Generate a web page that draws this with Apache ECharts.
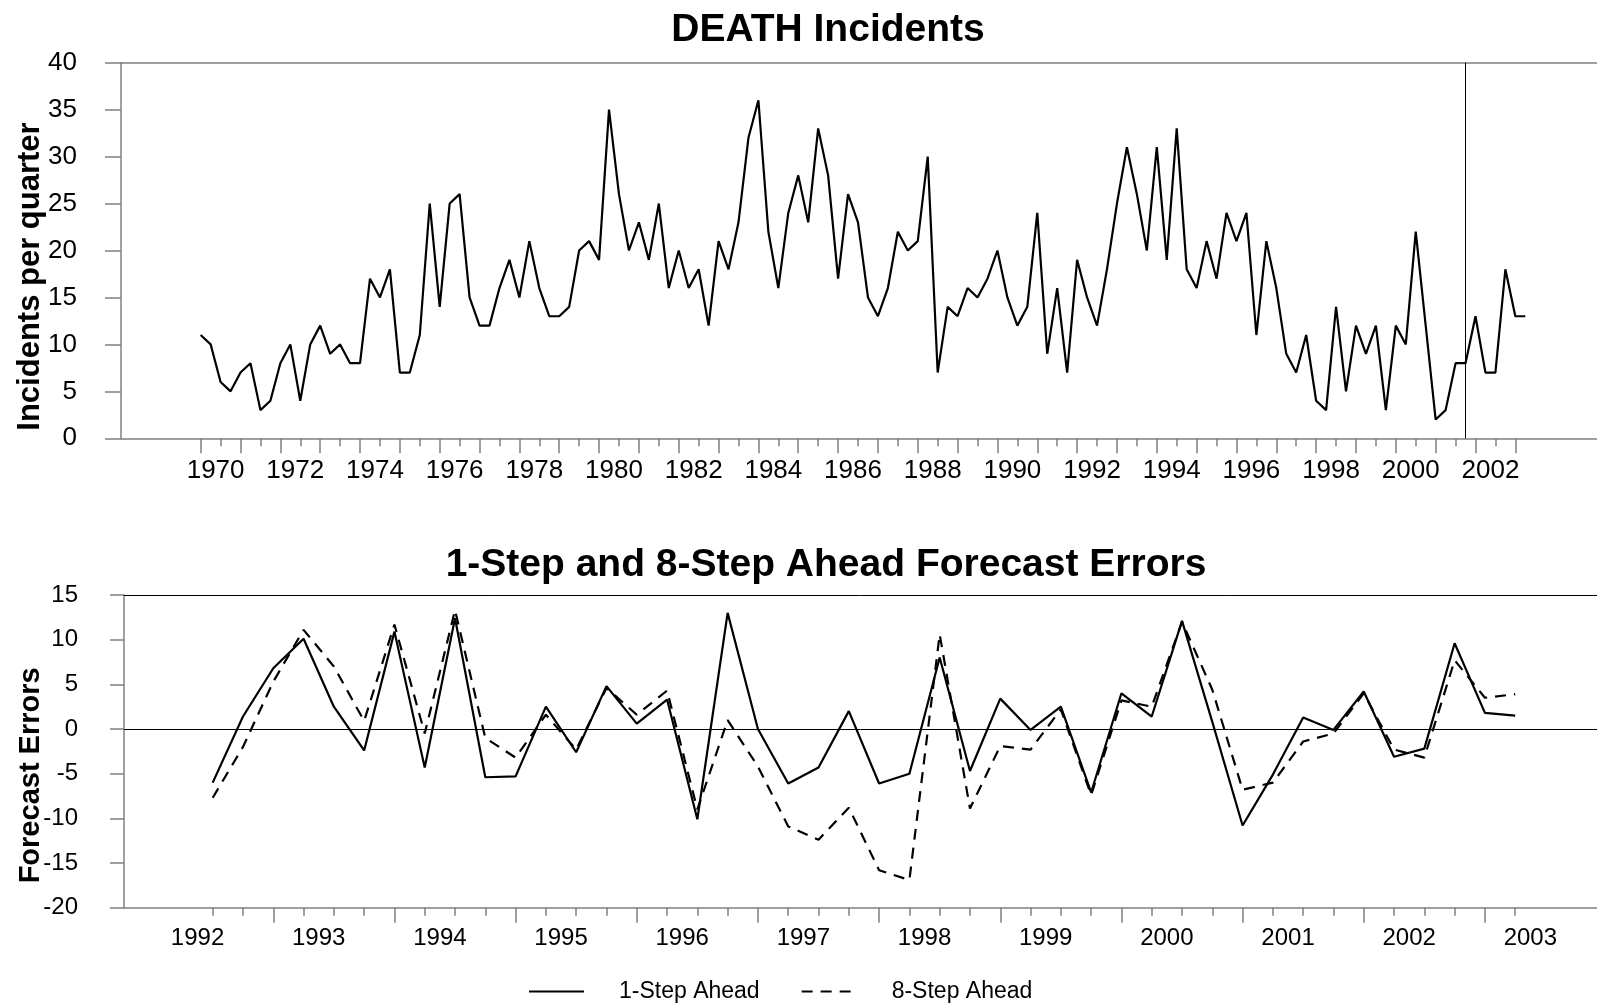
<!DOCTYPE html>
<html>
<head>
<meta charset="utf-8">
<script src="https://cdn.jsdelivr.net/npm/echarts@6/dist/echarts.min.js"></script>
<style>
html,body{margin:0;padding:0;background:#fff;}
#chart{width:1597px;height:1006px;}
</style>
</head>
<body>
<div id="chart"></div>
<script>
// ---------------- DATA ----------------
// Quarterly DEATH incidents, first value = 1970 Q1
const deathStartYear = 1970;
const deathIncidents = [
  11,10,6,5,7,8,3,4,8,10,4,10,12,9,10,8,8,17,15,18,7,7,11,25,14,25,26,15,12,12,16,19,15,
  21,16,13,13,14,20,21,19,35,26,20,23,19,25,16,20,16,18,12,21,18,23,32,36,22,16,24,28,23,33,
  28,17,26,23,15,13,16,22,20,21,
  30,7,14,13,16,15,17,20,15,12,14,24,9,16,7,19,15,12,18,25,31,26,20,31,19,33,18,16,21,17,
  24,21,24,11,21,16,9,7,11,4,
  3,14,5,12,9,12,3,12,10,22,12,2,3,8,8,13,7,7,18,13,13
];
// Forecast origin marker (2001 Q4)
const forecastOrigin = 2001.75;

// Forecast errors, first value = 1992 Q3
const errorStartYear = 1992.5;
const oneStepErrors = [
  -6.0,1.4,6.8,10.1,2.5,-2.4,10.9,-4.3,12.4,-5.4,-5.3,2.5,-2.6,4.8,0.6,3.3,-10.1,13.0,0.0,-6.1,
  -4.3,2.0,-6.1,-5.0,8.0,-4.7,3.4,-0.1,2.5,-7.1,4.0,1.4,12.1,0.8,-10.8,-5.1,1.3,-0.1,4.2,-3.1,
  -2.2,9.6,1.8,1.5
];
const eightStepErrors = [
  -7.7,-2.0,5.3,11.1,7.0,0.9,11.7,-0.5,13.3,-1.0,-3.2,1.6,-2.3,4.6,1.6,4.3,-9.0,1.0,-4.2,-10.9,
  -12.4,-8.8,-15.8,-16.9,10.6,-8.9,-1.9,-2.3,2.2,-7.4,3.2,2.5,12.0,4.4,-6.8,-6.0,-1.4,-0.5,4.0,-2.3,
  -3.2,7.7,3.5,3.9
];

// Tick labels
const topTickLabels = ['1970','1972','1974','1976','1978','1980','1982','1984','1986','1988',
  '1990','1992','1994','1996','1998','2000','2002'];
const bottomTickLabels = ['1992','1993','1994','1995','1996','1997','1998','1999','2000','2001','2002','2003'];

const seriesNames = ['1-Step Ahead', '8-Step Ahead'];

// ---------------- BUILD ----------------
const FONT = '"Liberation Sans", Arial, sans-serif';
const toXY = (start, arr) => arr.map((v, i) => [start + i / 4, v]);

const deathData = toXY(deathStartYear, deathIncidents);
const oneData = toXY(errorStartYear, oneStepErrors);
const eightData = toXY(errorStartYear, eightStepErrors);

// tick positions
const topLong = [], topShort = [];
for (let y = 1970; y <= 2003; y++) { topLong.push(y); if (y < 2003) topShort.push(y + 0.5); }
const botLong = [], botShort = [];
for (let q = 1992.5; q <= 2003.25 + 1e-9; q += 0.25) {
  if (Math.abs(q - Math.round(q)) < 1e-9) botLong.push(q); else botShort.push(q);
}
// labels are centred over the four quarters of each year
const LABEL_SHIFT = 0.375;
const topLabelPos = topTickLabels.map(s => Number(s) + LABEL_SHIFT);
const botLabelPos = bottomTickLabels.map(s => Number(s) + LABEL_SHIFT);
const labelFmt = (labels, pos) => (v) => {
  let best = 0;
  for (let i = 1; i < pos.length; i++) if (Math.abs(pos[i] - v) < Math.abs(pos[best] - v)) best = i;
  return labels[best];
};

const GRAY = '#808080';

// grid geometry
const TOP = { left: 121, top: 62.7, height: 375.6, xmin: 1968, xmax: 2005.05 };
const BOT = { left: 124, top: 595, height: 312.7, xmin: 1991.768, xmax: 2003.925 };

function hiddenX(grid, g, extra) {
  return Object.assign({
    type: 'value', gridIndex: g, min: grid.xmin, max: grid.xmax, position: 'bottom',
    axisLine: { show: false, onZero: false }, axisTick: { show: false }, axisLabel: { show: false },
    splitLine: { show: false }
  }, extra);
}
const lineOf = (color, width) => ({ show: true, onZero: false, lineStyle: { color: color, width: width } });

const option = {
  animation: false,
  backgroundColor: '#fff',
  title: [
    { text: 'DEATH Incidents', left: 828, top: 11, textAlign: 'center', padding: 0,
      textStyle: { fontFamily: FONT, fontSize: 39, fontWeight: 'bold', color: '#000' } },
    { text: '1-Step and 8-Step Ahead Forecast Errors', left: 826, top: 546, textAlign: 'center', padding: 0,
      textStyle: { fontFamily: FONT, fontSize: 39, fontWeight: 'bold', color: '#000' } }
  ],
  legend: {
    data: seriesNames, left: 528, top: 980, padding: 0,
    itemWidth: 55, itemHeight: 14, itemGap: 41,
    itemStyle: { opacity: 0, color: 'rgba(0,0,0,0)', borderWidth: 0 },
    textStyle: { fontFamily: FONT, fontSize: 23, color: '#000', padding: [0, 0, 0, 30] }
  },
  grid: [
    { left: TOP.left, top: TOP.top, height: TOP.height, right: 0, outerBoundsMode: 'none' },
    { left: BOT.left, top: BOT.top, height: BOT.height, right: 0, outerBoundsMode: 'none' }
  ],
  xAxis: [
    // 0: top data axis (bottom line)
    hiddenX(TOP, 0, { axisLine: lineOf(GRAY, 1.5) }),
    // 1: top long ticks + labels
    hiddenX(TOP, 0, {
      axisTick: { show: true, customValues: topLong, length: 15, lineStyle: { color: GRAY, width: 1.5 } },
      axisLabel: { show: true, customValues: topLabelPos, formatter: labelFmt(topTickLabels, topLabelPos),
        margin: 20, fontFamily: FONT, fontSize: 26, color: '#000' }
    }),
    // 2: top short ticks
    hiddenX(TOP, 0, {
      axisTick: { show: true, customValues: topShort, length: 8, lineStyle: { color: GRAY, width: 1.5 } }
    }),
    // 3: top border
    hiddenX(TOP, 0, { position: 'top', axisLine: lineOf(GRAY, 1.5) }),
    // 4: bottom data axis
    hiddenX(BOT, 1, { axisLine: lineOf(GRAY, 1.5) }),
    // 5: bottom long ticks + labels
    hiddenX(BOT, 1, {
      axisTick: { show: true, customValues: botLong, length: 15, lineStyle: { color: GRAY, width: 1.5 } },
      axisLabel: { show: true, customValues: botLabelPos, formatter: labelFmt(bottomTickLabels, botLabelPos),
        margin: 19, fontFamily: FONT, fontSize: 24, color: '#000' }
    }),
    // 6: bottom short ticks
    hiddenX(BOT, 1, {
      axisTick: { show: true, customValues: botShort, length: 8, lineStyle: { color: GRAY, width: 1.5 } }
    }),
    // 7: bottom border
    hiddenX(BOT, 1, { position: 'top', axisLine: lineOf('#000', 1) })
  ],
  yAxis: [
    {
      type: 'value', gridIndex: 0, min: 0, max: 40, interval: 5,
      name: 'Incidents per quarter', nameLocation: 'middle', nameGap: 75, nameMoveOverlap: false,
      nameTextStyle: { fontFamily: FONT, fontSize: 31, fontWeight: 'bold', color: '#000', padding: [0, 52, 0, 0] },
      axisLine: lineOf(GRAY, 1.5),
      axisTick: { show: true, length: 16, lineStyle: { color: GRAY, width: 1.5 } },
      axisLabel: { margin: 44, fontFamily: FONT, fontSize: 26, color: '#000' },
      splitLine: { show: false }
    },
    {
      type: 'value', gridIndex: 1, min: -20, max: 15, interval: 5,
      name: 'Forecast Errors', nameLocation: 'middle', nameGap: 79, nameMoveOverlap: false,
      nameTextStyle: { fontFamily: FONT, fontSize: 29, fontWeight: 'bold', color: '#000', padding: [0, 48, 0, 0] },
      axisLine: lineOf(GRAY, 1.5),
      axisTick: { show: true, length: 14, lineStyle: { color: GRAY, width: 1.5 } },
      axisLabel: { margin: 46, fontFamily: FONT, fontSize: 24, color: '#000' },
      splitLine: { show: false }
    }
  ],
  series: [
    {
      name: 'DEATH', type: 'line', xAxisIndex: 0, yAxisIndex: 0, data: deathData,
      showSymbol: false, symbol: 'none', color: '#000',
      lineStyle: { color: '#000', width: 2.2 },
      markLine: {
        silent: true, symbol: ['none', 'none'], label: { show: false },
        lineStyle: { color: '#000', width: 1, type: 'solid' },
        emphasis: { disabled: true },
        data: [{ xAxis: forecastOrigin }]
      }
    },
    {
      name: seriesNames[0], type: 'line', xAxisIndex: 4, yAxisIndex: 1, data: oneData,
      showSymbol: false, symbol: 'none', color: '#000',
      lineStyle: { color: '#000', width: 2.2, type: 'solid' },
      markLine: {
        silent: true, symbol: ['none', 'none'], label: { show: false },
        lineStyle: { color: '#000', width: 1, type: 'solid' },
        emphasis: { disabled: true },
        data: [{ yAxis: 0 }]
      }
    },
    {
      name: seriesNames[1], type: 'line', xAxisIndex: 4, yAxisIndex: 1, data: eightData,
      showSymbol: false, symbol: 'none', color: '#000',
      lineStyle: { color: '#000', width: 2.2, type: [11, 8] }
    }
  ]
};

const chart = echarts.init(document.getElementById('chart'), null, { renderer: 'canvas' });
chart.setOption(option);
</script>
</body>
</html>
